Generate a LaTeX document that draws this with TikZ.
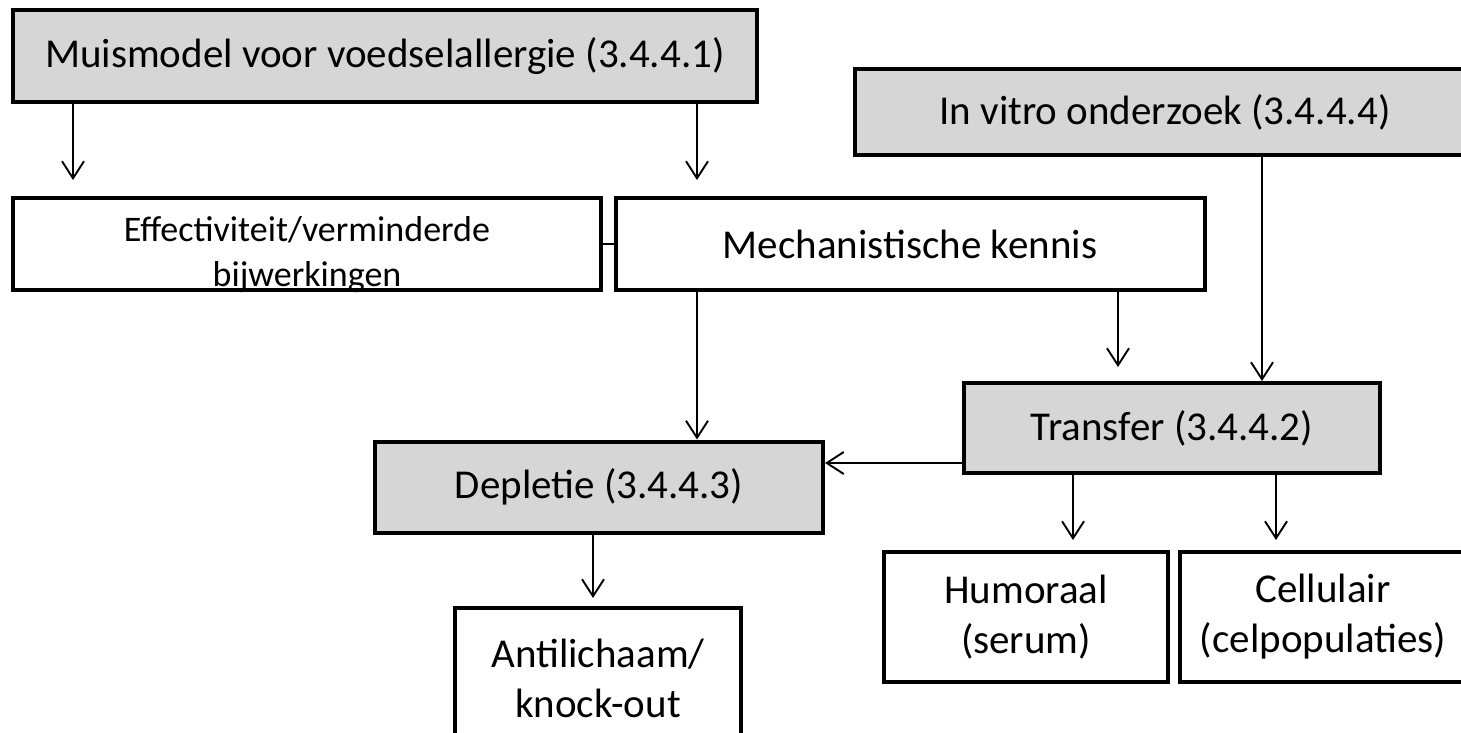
\documentclass[tikz,border=0pt]{standalone}
\usepackage{fontspec}
\setmainfont{Carlito}
\usetikzlibrary{arrows.meta,positioning}

\begin{document}
\begin{tikzpicture}[x=1pt, y=-1pt,
    >={Straight Barb[length=17pt,width=22pt]},
    grijs/.style={draw, line width=4pt, fill=black!16, inner sep=0pt, align=center},
    wit/.style={draw, line width=4pt, fill=white, inner sep=0pt, align=center},
    pijl/.style={->, line width=1.9pt},
    font=\fontsize{41}{50}\selectfont]
    \useasboundingbox (0,0) rectangle (1461,733);

    % Bovenste blokken
    \node[grijs, minimum width=744pt, minimum height=92pt] (muis) at (385,56) {Muismodel voor voedselallergie (3.4.4.1)};
    \node[grijs, minimum width=620pt, minimum height=86pt] (vitro) at (1165,112) {In vitro onderzoek (3.4.4.4)};

    % Tweede rij
    \node[wit, minimum width=588pt, minimum height=92pt, font=\fontsize{36}{45}\selectfont] (effect) at (307,244)
        {\raisebox{-11pt}[\height][\depth]{\begin{tabular}{@{}c@{}}Effectiviteit/verminderde\\bijwerkingen\end{tabular}}};
    \node[wit, minimum width=589pt, minimum height=92pt] (mech) at (910,244) {Mechanistische kennis};

    % Transfer en depletie
    \node[grijs, minimum width=416pt, minimum height=90pt] (transfer) at (1172,428) {Transfer (3.4.4.2)};
    \node[grijs, minimum width=448pt, minimum height=91pt] (depletie) at (599,487) {Depletie (3.4.4.3)};

    % Onderste blokken
    \node[wit, minimum width=284pt, minimum height=130pt] (humoraal) at (1026,617) {Humoraal\\(serum)};
    \node[wit, minimum width=286pt, minimum height=130pt] (cellulair) at (1323,617) {Cellulair\\(celpopulaties)};
    \node[wit, minimum width=286pt, minimum height=140pt] (antilichaam) at (598,678) {Antilichaam/\\knock-out};

    % Kolommen van de pijlen
    \coordinate (kA) at (73,0);
    \coordinate (kB) at (697,0);
    \coordinate (kC) at (1118,0);
    \coordinate (kD) at (1262,0);
    \coordinate (kE) at (593,0);
    \coordinate (kF) at (1073,0);
    \coordinate (kG) at (1276,0);

    % Muismodel -> effectiviteit en kennis
    \draw[pijl, shorten >=16pt] (muis.south -| kA) -- (effect.north -| kA);
    \draw[pijl, shorten >=16pt] (muis.south -| kB) -- (mech.north -| kB);

    % Verbinding tussen de twee vakken
    \draw[line width=1.9pt] (effect.east) -- (mech.west);

    % Kennis -> depletie en transfer
    \draw[pijl] (mech.south -| kB) -- (depletie.north -| kB);
    \draw[pijl, shorten >=14pt] (mech.south -| kC) -- (transfer.north -| kC);

    % In vitro -> transfer
    \draw[pijl] (vitro.south -| kD) -- (transfer.north -| kD);

    % Transfer -> depletie
    \draw[pijl] ([yshift=12pt]transfer.south west) coordinate (t1) -- (t1 -| depletie.east);

    % Naar de onderste blokken
    \draw[pijl, shorten >=8pt] (depletie.south -| kE) -- (antilichaam.north -| kE);
    \draw[pijl, shorten >=10pt] (transfer.south -| kF) -- (humoraal.north -| kF);
    \draw[pijl, shorten >=10pt] (transfer.south -| kG) -- (cellulair.north -| kG);
\end{tikzpicture}
\end{document}
